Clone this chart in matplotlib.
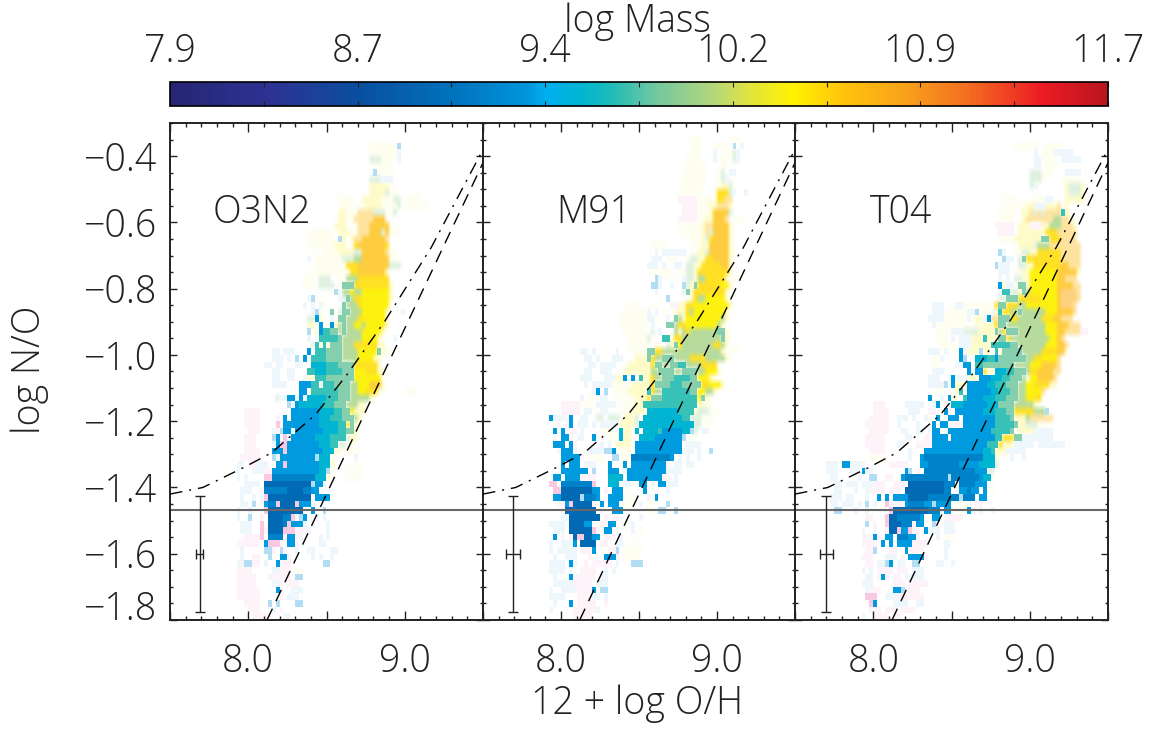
#!/usr/bin/env python

import numpy as np
import matplotlib
matplotlib.use('Agg')
import matplotlib.pyplot as plt
from matplotlib.colors import LinearSegmentedColormap, Normalize, to_rgb
from matplotlib.cm import ScalarMappable
from matplotlib.ticker import MultipleLocator

plt.rcParams['font.family'] = ['Open Sans', 'DejaVu Sans']
plt.rcParams['font.weight'] = 300
plt.rcParams['axes.labelweight'] = 300

W = 1152.0
H = 732.0
TEXT_SIZE = 27
TEXT_COLOR = '#222222'

# x bins are 0.025 dex from 7.5, y bins 0.02 dex down from -0.3
XMIN, XMAX = 7.5, 9.5
YMIN, YMAX = -1.8, -0.3
NX, NY = 80, 75

# cell classes: log mass, weight against the white page
CODE_MASS = {'w': 9.3, 'l': 9.3, 'C': 9.36, 'B': 9.18, 'D': 8.95, 'c': 9.55, 'T': 9.72,
             'G': 9.87, 'g': 10.05, 'Y': 10.42, 'y': 10.52, 'O': 10.65, 'o': 10.4,
             'v': 10.4, 'h': 10.7, 'e': 9.95, 'R': 10.8}
CODE_WEIGHT = {'w': 0.07, 'l': 0.3, 'C': 1.0, 'B': 1.0, 'D': 1.0, 'c': 1.0, 'T': 0.95,
               'G': 0.85, 'g': 0.8, 'Y': 0.95, 'y': 0.88, 'O': 0.8, 'o': 0.22,
               'v': 0.06, 'h': 0.4, 'e': 0.28, 'R': 0.55}
PINK = {'p': ('#f4a6cc', 0.13), 'P': ('#f080b8', 0.42)}
# these classes are soft in the picture, the rest stay as sharp cells
SOFT_CODES = 'gYyOovheR'

# runs per row, top row first, later runs overwrite earlier ones
O3N2_ROWS = ["", "", "",
    "51-57v 58l", "51-57v 58w", "51-53e 54-57v 58w", "52-56v", "52l 53-56v", "51-53e 54-56w",
    "51-55o 56v", "51-54o 55e 56-57v", "43-46v 49-53o 54-56v 57-58e 60-63v",
    "43-46v 48-50v 50-53o 54-57v 58e 60-65v", "43-44o 45-47v 48-51h 52-54e 55-57v 57e",
    "43-44o 45-47v 47-49h 49-52h 52-54O", "42-44o 46-47v 48-50h 51-55O 56v",
    "35-41v 43-45o 46-47v 48-50h 51-53O 54e 55O 56-58v", "35-41v 43l 44o 46o 47-48h 49-54O 55h",
    "36-41v 42-44o 46-47v 47-48y 48-54O 55y", "39-42v 43-44o 45-46o 47-48e 49-54O 55h 56-57v",
    "35w 37-43v 44-46e 47-48g 49-55O 56-57v", "37-43v 44-45v 45-47y 48-55O 56-58e",
    "36-42v 43-45v 46-47y 48-54O 55o", "34-36v 38-40e 43-44v 45-47g 48-55y",
    "34-36v 38-41e 43-44v 44-46G 47-55y 56o", "42l 43w 44-45g 46-47Y 47-48g 49-55Y 56o",
    "35w 36l 38v 43w 44e 45G 46g 47-48y 49-55Y 56o", "34w 36w 38w 39v 44G 45g 46-47g 48-49y 49-55Y",
    "37l 38v 36w 41G 43e 44-45G 46g 47-48g 49-54Y 55o 59w",
    "35e 36e 37C 38o 41w 42-43v 43-44G 45-47g 48y 49-54Y 55o",
    "35-36o 38C 40v 41C 42o 43g 44G 45-46g 47-48Y 49g 50-54Y 55o",
    "35l 37o 38C 39-40T 41-42G 43g 44G 45-46g 47-48g 49-53Y 54o",
    "35w 38-40T 41-42T 43G 44-46g 47-48g 49-52Y 53o 57w",
    "36e 37T 38o 39T 40o 41G 42-43G 44-46g 47-52y 53-54o",
    "26-27w 29-31w 35C 37-39T 40-43G 44-47g 48-52Y 53G 54o 55-56v",
    "26w 27-28w 30w 32l 34C 36-39T 40-43G 44-47g 48-51Y 52-53o",
    "24-25w 27-28w 32-33w 36-39c 40-42T 43-46G 47-52y 53o",
    "26-27w 30-31w 35-36T 37-39c 40-43T 44-46G 47-49Y 50-52y 53-54o",
    "26-27w 30-31w 34w 35-36o 37T 38-39T 40-42G 43-46G 47-53Y",
    "26-28w 29w 33-35C 36-37T 38e 39-41T 42-45G 46-47g 48-50Y 51-53O 54o",
    "33-34C 35v 36-37T 38-42T 43-45G 46-47g 48-49Y 50-52y 53o 60-62v",
    "27e 28-29w 30-31C 32w 33C 34w 35-39c 40-42T 43-45G 46-47g 48-50g 51o",
    "30l 31w 32C 33w 33-38c 39-41T 42-44G 45-47g 48-49o",
    "19-22p 31-37C 38-41c 42-43T 44-45G 46Y 47-49o",
    "19-22p 27p 29C 31-37C 38-40c 41-43T 44-46G 47g 48o",
    "19-22p 27P 28p 29-31C 32-38C 38-42c 43-44T 45y 46G 47o",
    "20-22p 26w 27p 28l 29-30C 31w 32-38C 39-42c 43-44T 45-46G 47o",
    "19-21p 26l 27C 29P 30w 31-36C 37-41c 41-44T 45e 46-47o",
    "19-21p 26w 27C 28-29P 30-37C 38-42c 41-42T 43-44e 45-46v",
    "19-22p 26C 27-28C 29P 30-38C 39-41c 42o 43-47v",
    "18-22p 26l 27w 28-29C 30-36C 37l 38-40c 41-42v 47w",
    "17-18w 20-22p 22-24w 27C 28C 29P 30-37C 38-40c 41o 47-48v",
    "17w 21-24w 24-25p 26-38C 38-39c 40l 41v 45-48v",
    "17w 19w 24-25P 26-37B 37-39c 40o 45-48v",
    "19-21w 22w 24-35D 36l 37-38C 39w",
    "18w 19-20w 23p 24-35B 30-33D 36-37C 38v",
    "18w 21w 23w 24P 25-35D 36p 37-38C 39-40C",
    "18-19w 21l 23p 24C 25-26B 27P 28-31D 32P 33-35C 36w",
    "17w 20w 24P 25-33D 36C 39l",
    "17w 20l 23p 25-28D 29-30B 31P 32w 33l 34C 37w 39w",
    "18-20w 23P 25-28D 29B 30P 31-33C 34w 36w 40w",
    "18-20w 23P 24p 25-28D 29-31P 32-34p 35w 40w",
    "19-22p 23P 25-28B 29p 30-31C 32p 33w 38w 40w",
    "17-22p 24C 25-27P 28p 30-31C 32p 38-39w",
    "18w 24-25l 26p 28l 29p 32w 35-36w 41-42w",
    "18w 21-22p 25l 28-29C 30p 36w 38w 41w",
    "17-18w 19-20l 21-22p 24w 27C 28-30p 39-40l",
    "17-20p 26-27w 28-30p 32-33v",
    "17-21p 25w 26-27p 28-30p 32-33l",
    "17-21p 26-27w 28p 30-32p",
    "17-22p 27C 28p 31-33w",
    "17-22p 28p 30-32w",
    "19-22p 25l 27l 32-33l",
    "20-22p 26w 28p",
    "21-24p 29-30w"]

M91_ROWS = ["", "",
    "53-55v 63-65v", "53-55v 59-62v 64l 66w", "53-55v 59w 62-63v 64e 65w", "52-55v 59w 60-62v 64e 65w",
    "52-56v 61-62v", "51-56v 60-61v 61e 63-64w", "51-56v 60-61v 61-62e 62w 63v",
    "51-56v 59-60v 61-62o 63e 64v", "50-55v 59-60v 60-62y 63e 64w 67w",
    "50-54p 55-58v 58-60v 60-62y 62-63h", "51-54p 55-57v 58-60o 60-62h 63o",
    "51-54p 55-57v 58-59o 59-62O 63e", "50-54p 56-57v 57-58o 59-62O 62h 64-66v",
    "50-55v 56-57o 57-58h 59-62O 63o", "51-55v 56-57o 57-58h 58e 59-62O 63o",
    "53-55v 56-57o 57-58e 58-59y 59-62O 63o", "43-46v 54-56v 56-57o 58-62O 63o",
    "44w 46-49w 50-51w 53-55v 55-56o 57e 58-62O 63o 64v",
    "43-45w 47-49v 52-53v 53-54e 55-56o 57-58y 59-62O 63o",
    "42-44w 46w 49w 50w 52-53e 54-55o 56-57y 58-60y 61-62O 63o",
    "43-44v 45-47v 50-51v 52-53e 54o 55-56y 57-62y 63o 65v",
    "44l 45w 48v 51w 52-53e 54o 55-56g 57-61y 62o 64v",
    "43-44l 45w 48w 51l 52e 53-54o 54-55G 55-56y 57-60y 61-62Y 63o",
    "44w 51e 52G 53o 54-61y 62o 63v", "47l 53-54o 54-55y 55-56g 57-61Y 62o",
    "37-39v 43-44v 48-49p 50-51o 52-53y 54-62Y 63o", "36-42v 42w 44w 46v 49-51o 52y 53g 54-61Y 62o",
    "35-41v 42-43w 44v 47w 48v 49G 50g 51o 52-60Y 61g 62o",
    "35-41v 43w 47-48G 49g 50y 51-52y 52-59Y 60g 61o",
    "36-41v 43e 45w 49g 50o 51g 52y 53-60g 60-61G 62o",
    "37-42v 42e 46T 47T 48o 49y 50y 51-60g 61G 62o",
    "37-42v 44-45v 47e 48o 49G 50Y 51-58g 59-60y 61g 62o",
    "25-26w 28w 30v 34w 38-41v 42-43G 44y 45y 46-57g 58-60g 61o 63-65v",
    "26-27w 29w 33-35w 39-41o 42G 43y 44-45g 46-48G 49-52g 53-56y 57-61g 62o",
    "27-28w 30-33w 37-40o 41-42o 43y 44-45G 46-47g 48-49G 50-51T 52-55g 56-59y",
    "26-27w 30-32w 36-39o 40-42o 43-44g 45-48G 49-50g 51-54G 55-56g 57-59Y 60o",
    "25-27w 31-33w 34-35o 36C 38C 40T 41-42o 43y 44-45g 46-48G 49-52T 53-54G 55-57Y 58o",
    "26w 28-32w 33-36v 38-40o 41-42o 43y 44-47G 48-50T 51-55G 56-57y 58-60Y 61o",
    "28w 29C 31l 33-36v 37-38o 39-41o 42T 43y 44-45g 46-52T 53-54G 55-56Y 57-58g 59o",
    "25w 27-28v 30-31w 34-35v 37-38v 39-41o 42y 43-46G 46-54T 55Y 56G 57o",
    "20-24p 25-27v 29-33w 36-38v 39-41o 41-54T 55-56o 57-58v",
    "20-24p 26-27w 29v 30-31w 35-37v 38-41o 42-49c 50-53T 54-55o 55-57e 58-60v",
    "17C 18-20w 21p 22C 25-26w 29-30e 32-34e 36-38o 39e 41-50c 51-52T 53-55e 56-58v",
    "19p 21p 22C 24-26w 28w 30w 31-33w 35-38o 39e 40-53c 54-55e 57-58v",
    "18C 20C 21w 22-23p 25w 30-32v 35c 36-37o 39c 41-44c 45T 46-50C 51-52c 53l 54e 56-57w",
    "18p 20C 21C 22p 24-25w 28C 32-33v 35c 36-37o 40-43c 44-50C 51l 52-54v",
    "18-20C 22C 23p 30w 32w 34-37o 39-50C 52-54w 55w",
    "19p 20-22C 23w 25v 27-30w 31-32l 33C 35-37v 39-50C 51-53w 55w 58l",
    "20-24C 25p 27-30v 33-34l 35-37v 38-47B 48C 50w 52w 55w",
    "20C 22-24C 26-28w 32C 35-36v 36C 38-46C 47p 49-50w 52-53w",
    "20-26C 28l 32-34C 36w 37-46C 47-48w 49-50w",
    "18-19C 21-24C 25-28p 32-35c 37-45C 46-47p 49w",
    "17-18P 20-28B 28P 32-34c 36-37w 40-41C 43w 45-46C 47w 48-49w",
    "18-19P 20-27D 28-29C 31p 33-35C 36v 41C 47w",
    "18-19C 20-24D 25l 26-28B 29C 32-35C 37-38v 42w 44C",
    "19-20p 21C 22P 23-28D 28p 30C 32-34C 36-38v 40w 42-43v 47l",
    "20p 21-28D 30p 33-35C 42-43v 45l 46l 49l",
    "20-21w 22-29D 31p 33-34p 40w",
    "17w 18-20w 22-25D 26-27C 30-31p 32-33C 36v 38w",
    "18-20w 22-27D 28P 29p 31-32C 34w 38w 40v",
    "18C 20p 22p 23-27D 24-25P 28-29C 31-33p 35w 39v",
    "17w 20-22w 23C 25-28D 30-31p 34-35w 37v",
    "17w 19-22w 23w 25-27p 28C 32-33p 34l 36-40v",
    "18w 21-23w 27p 31-33C 34p 36-39v",
    "17-20w 22C 23w 26p 28-31p 32p 34w 38-40l",
    "17-20w 22w 25-28p 31w 33w",
    "18w 22C 23-28p 30-31w",
    "18-20w 21-23w 23-27p 29-31w",
    "17w 20-23w 24-27p 28C 30-31l",
    "17-20w 24-27p 28-29w 31w",
    "18w 22C 24-28p 31p",
    "17w 23-28p 29w",
    "23-27p"]

T04_ROWS = ["", "", "",
    "56-61v 64-68v", "61w 63-66v 66-70w", "61-62w 63-66v 68-72w", "61-62w 64-66v",
    "60-62e 63-65v 69-72w", "60-62e 63v 68-72v", "60e 61w 69-73o 70-72e", "69-73o 70-72e",
    "53-55v 61-64v 64-65w 69-73o", "54-58v 59-61o 61-63w 64-66o 67h 69o",
    "52-55v 58-59o 60-63h 61e 63e 64-67h 68T 69o", "52-55v 58-59o 59-63h 64-66h 66-68g 68-69h 70o",
    "51-55p 57-60o 60-62p 63-65o 65-68g 68-70h 71o", "52-55p 57-64o 64-66y 67-70h 71h",
    "52-55v 56-62o 63-64G 65-67y 68-71h", "57-60o 61-62e 62-64g 65-71h 72h",
    "52l 53w 56-57v 58-59e 60-61o 62-67y 68-72h", "53l 54-55w 57e 58G 59-60y 60-67y 68-72h",
    "51l 52-54w 57-58e 59-60o 61-68y 68-69O 70-72h", "52-54w 56-58v 58-60o 60-66Y 67-71O 72o",
    "52w 54w 56e 57-58e 58-59o 60-66Y 67-68O 69-71h", "52C 53o 54-55w 56v 57-58G 59-60o 60-66Y 67-70O 71-72h",
    "53-54T 55-56e 57-58o 58G 59-60g 60-66Y 67O 68-71R 72h", "52-53e 54-56G 57-62y 63-66Y 67O 68-71R 72h",
    "35-37w 41-42w 43-47v 48-50v 51y 52-53G 54-56y 57-58g 59-66Y 67O 68-70R 71h",
    "35-37w 39-43v 44-46w 46l 47-49v 50w 51-52o 52T 53-54y 55-56g 57G 58-63g 64-66Y 67O 68-70O 71h",
    "34-37w 38-43v 44w 45v 46-47o 48w 49C 50-51h 52-54G 55-56y 57-62g 63-65y 66-67O 68-70h",
    "35w 36-37v 38-44v 46-47o 47-48v 48-50o 51y 52-53G 54-63g 64-66Y 67-69O 70-72h",
    "36-39v 40-42w 43-46e 47-50o 51G 52g 53y 54-56G 57-63g 64-66Y 67-68O 69-72h 73-74p",
    "36-38v 40w 42-44w 45-47o 48T 49-51o 52-53G 54y 55-64g 65-66Y 67O 68h",
    "37-40v 42-44w 45-49o 50-54T 55-56G 57-63g 64-66Y 67-68O 69h",
    "34-36w 38w 40v 42C 43w 44-46o 47l 48-49o 51T 52o 53-57G 58-62g 63-66y 67-68O 69v",
    "35-36v 37w 42C 43l 46-47c 48c 49-50T 51C 52-58G 59-60g 61-62y 63-66Y 67h",
    "35-36v 41-42w 43-44C 46-47T 48-55G 56-60g 60-62Y 63-66O 67h",
    "35-36w 37w 44C 46-47C 48y 49-50o 51-53c 54-55T 56-58G 59-60g 60-62y 62-65O 66-67h",
    "34-36w 39w 40C 41w 42-43w 44-46o 47-49C 50-52c 53-54T 55-57G 58g 60-62Y 62-65O 66h",
    "34-36w 37w 38l 40C 41-43o 44-48C 49-50c 51-53T 54-56G 57-58g 59-60Y 61-64y 65-66o",
    "36-37v 41o 42T 44-49C 50-51c 52-54T 55-56G 57-58g 59-62Y 63h",
    "34C 37w 39C 40o 43-44T 44-47C 48-50c 51-53T 54-56G 57-59g 59-60Y 61-62y",
    "20-22p 28-32w 35w 36C 38p 40-42c 43-48C 49-51c 52-55G 56-60g 61o 62v",
    "20-23p 29-31w 34-35p 38C 39p 41-47C 48-50c 51-53T 54-55G 56-60y 61-63g 64l",
    "19-23p 26-28w 30w 33w 36C 39-41C 43-50C 51-54T 55G 56-58o 59-60g 60-65h",
    "18-23p 26w 31w 35C 37-38C 39w 40-42p 43-50C 51-55T 56G 57-58o 59-61e 62-65v",
    "19-23p 27-28w 31w 32w 34w 35-36C 38w 39-49C 50-54T 55G 57-61o 61-65w",
    "18-22p 28w 29w 33-34p 35-38C 39p 40-50C 51-52T 53-55y 56-57G 58-65w",
    "18-22p 26-27w 31-34p 35-48C 49-51T 52y 53-55o 56-60w 62-68w",
    "19-22p 29w 33C 34-47C 48-49c 50T 51-54o 54-58w",
    "19-22v 29w 32C 33-47B 48-50c 51o 55w 58w",
    "8-10w 12-13C 14-17w 24-28p 32-33C 34-41B 42-46C 47-50c 51e",
    "8-10w 14-15w 17C 18-19w 28C 29l 31p 33-45B 46-48C 49-50e",
    "9-10w 16w 19-20l 23-24p 27-28C 28-38B 39l 40-46B 47C 48-49c 50v",
    "10-11w 13-15w 17-19w 20-22p 25-27p 29-37D 38-40B 41w 42-45B 46-48C",
    "10-11w 15w 18w 19-22p 24-26p 28-37D 38-39B 41p 42-43C 44B 45-46C 48C 50v",
    "9-11w 13-14w 18w 21C 23C 25-28C 29-33D 34-41B 42l 43-45B 46v 47-48C",
    "9-10w 12-14w 16w 18l 20w 23P 24w 25-27p 28C 29-32B 33-34C 35l 36-39C 40-44v 46-47p",
    "10-11l 15w 18w 24P 25-33D 34-36B 37w 38-39C 44C 45w 47w 50w",
    "18-19p 23P 24-25D 26-31B 32C 35-36C 38-42p",
    "18l 20p 23P 24-26D 27-29B 30p 31-32C 35l 38-40w",
    "17w 20w 23p 24-25D 26P 27-28C 29P 30-31p 33C 34-36w 38-40w",
    "17-19p 20C 21p 23-24C 26-28B 29-30C 31p 36w 38-40v",
    "17-20p 22C 24C 26-29C 30-33p 38-39w",
    "18-19p 20l 24-25p 28C 29-32p 38w",
    "17-19p 23-25w 27p 29-32C 33p 38w",
    "18-19p 21-22w 23l 24C 26-27w 30-31l 36-37w 40w",
    "17w 19w 21-24p 26-28p 30-32w",
    "18-19w 21-23p 22C 25-26p 28-32w",
    "17-19w 25-27p 29-33p",
    "18w 19-21p 25-26C 27l 28-31p",
    "18-20P 23-25w 26-29p 30-32p",
    "19-20P 20C 25-28w 31-32w",
    "19-21p 23-25p 27-30p",
    "17w 20-23p 25-26p"]

PANEL_ROWS = [O3N2_ROWS, M91_ROWS, T04_ROWS]
PANEL_NAMES = ['O3N2', 'M91', 'T04']
PANEL_NAME_X = [8.09, 8.21, 8.18]
PANEL_NAME_Y = -0.57

# lines common to all panels
FLOOR_NO = -1.468
DASH_X = [8.12, 9.5]
DASH_Y = [-1.80, -0.42]
CURVE_X = [7.5, 7.71, 7.97, 8.15, 8.43, 8.63, 8.87, 9.17, 9.5]
CURVE_Y = [-1.42, -1.40, -1.34, -1.295, -1.18, -1.06, -0.90, -0.675, -0.38]

# error bars
ERR_X = [7.69, 7.69, 7.70]
ERR_Y = -1.60
ERR_YSIZE = 0.175
ERR_XSIZE = [0.024, 0.045, 0.043]

YTICKS = [-0.4, -0.6, -0.8, -1.0, -1.2, -1.4, -1.6, -1.8]
CBAR_MIN, CBAR_MAX = 7.9, 11.7
CBAR_LABELS = ['7.9', '8.7', '9.4', '10.2', '10.9', '11.7']

cmap = LinearSegmentedColormap.from_list('mass', [
    (0.0, '#262673'), (0.10, '#2e3192'), (0.20, '#0a4f9f'), (0.30, '#0072bc'),
    (0.38, '#0095da'), (0.40, '#00aeef'), (0.44, '#00b5cf'), (0.47, '#1fbcb8'),
    (0.52, '#74c8a0'), (0.58, '#b5d77c'), (0.62, '#e2e53b'), (0.665, '#fff200'),
    (0.72, '#ffc20e'), (0.78, '#f9a51a'), (0.85, '#f37021'), (0.93, '#ed1c24'),
    (1.0, '#b9151f')])
norm = Normalize(CBAR_MIN, CBAR_MAX)


def cell_color(code):
    if code in PINK:
        col, wt = PINK[code]
        rgb = np.array(to_rgb(col))
    else:
        rgb = np.array(cmap(norm(CODE_MASS[code]))[:3])
        wt = CODE_WEIGHT[code]
    return wt*rgb + (1.0 - wt)


def rows_to_images(rows):
    # soft layer goes underneath, sharp layer on top with holes
    soft = np.ones((NY, NX, 3))
    sharp = np.zeros((NY, NX, 4))
    for r, line in enumerate(rows):
        for run in line.split():
            code = run[-1]
            ends = run[:-1].split('-')
            c0 = int(ends[0])
            c1 = int(ends[-1])
            if code in SOFT_CODES:
                soft[r, c0:c1+1] = cell_color(code)
                sharp[r, c0:c1+1] = 0.0
            else:
                sharp[r, c0:c1+1, :3] = cell_color(code)
                sharp[r, c0:c1+1, 3] = 1.0
    return soft, sharp


def ax_rect(x0, y0, x1, y1):
    return [x0/W, 1.0 - y1/H, (x1 - x0)/W, (y1 - y0)/H]


fig = plt.figure(figsize=(W/100, H/100), dpi=100)

EDGES = [(170, 483), (483, 795), (795, 1108)]
DARK = '#222222'
for i in range(3):
    ax = fig.add_axes(ax_rect(EDGES[i][0], 123, EDGES[i][1], 620))
    soft, sharp = rows_to_images(PANEL_ROWS[i])
    ax.imshow(soft, extent=(XMIN, XMAX, YMIN, YMAX), origin='upper',
              aspect='auto', interpolation='bilinear', zorder=0)
    ax.imshow(sharp, extent=(XMIN, XMAX, YMIN, YMAX), origin='upper',
              aspect='auto', interpolation='nearest', zorder=1)
    ax.axhline(FLOOR_NO, color='#666666', lw=1.5, zorder=2)
    ax.plot(DASH_X, DASH_Y, color='black', lw=1.0, dashes=(9, 6), zorder=3)
    ax.plot(CURVE_X, CURVE_Y, color='black', lw=1.0, dashes=(9, 5, 1.5, 5), zorder=3)
    ax.errorbar([ERR_X[i]], [ERR_Y], yerr=ERR_YSIZE, xerr=ERR_XSIZE[i], color=DARK,
                lw=1.0, capsize=3.6, capthick=1.0, zorder=3)
    ax.text(PANEL_NAME_X[i], PANEL_NAME_Y, PANEL_NAMES[i], fontsize=TEXT_SIZE, color=TEXT_COLOR,
            ha='center', va='center')

    ax.set_xlim(XMIN, XMAX)
    ax.set_ylim(YMIN, YMAX)
    ax.xaxis.set_minor_locator(MultipleLocator(0.1))
    ax.yaxis.set_minor_locator(MultipleLocator(0.05))
    ax.set_xticks([7.5, 8.0, 8.5, 9.0, 9.5], ['', '8.0', '', '9.0', ''], fontsize=TEXT_SIZE, color=TEXT_COLOR)
    ax.set_yticks(YTICKS, ['\u2212%.1f' % abs(v) for v in YTICKS], fontsize=TEXT_SIZE, color=TEXT_COLOR)
    ax.tick_params(which='major', direction='in', top=True, right=True, length=6.5, width=1.0, color=DARK)
    ax.tick_params(which='minor', direction='in', top=True, right=True, length=3, width=1.0, color=DARK)
    ax.tick_params(axis='y', which='major', length=5, pad=9, labelleft=(i == 0))
    ax.tick_params(axis='y', which='minor', length=2.5)
    ax.tick_params(axis='x', which='major', pad=16)
    if i == 0:
        ax.get_yticklabels()[-1].set_va('baseline')
    for s in ax.spines.values():
        s.set_linewidth(1.4)
        s.set_color(DARK)

cax = fig.add_axes(ax_rect(170, 82, 1108, 106))
cb = fig.colorbar(ScalarMappable(norm=norm, cmap=cmap), cax=cax, orientation='horizontal')
cax.set_xticks(np.linspace(CBAR_MIN, CBAR_MAX, 11),
               [CBAR_LABELS[k//2] if k % 2 == 0 else '' for k in range(11)])
cax.xaxis.set_ticks_position('both')
cax.tick_params(axis='x', direction='in', length=3.5, width=0.8, color=DARK, labelbottom=False,
                labeltop=True, labelsize=TEXT_SIZE, labelcolor=TEXT_COLOR, pad=8)
cb.minorticks_off()
cb.outline.set_linewidth(1.2)

fig.text(637/W, 1.0 - 22/H, 'log Mass', fontsize=TEXT_SIZE, ha='center', va='center', color=TEXT_COLOR)
fig.text(637/W, 1.0 - 704/H, '12 + log O/H', fontsize=TEXT_SIZE, ha='center', va='center', color=TEXT_COLOR)
fig.text(30/W, 1.0 - 370/H, 'log N/O', fontsize=TEXT_SIZE, ha='center', va='center', rotation=90, color=TEXT_COLOR)

fig.savefig('out.png', dpi=100)
